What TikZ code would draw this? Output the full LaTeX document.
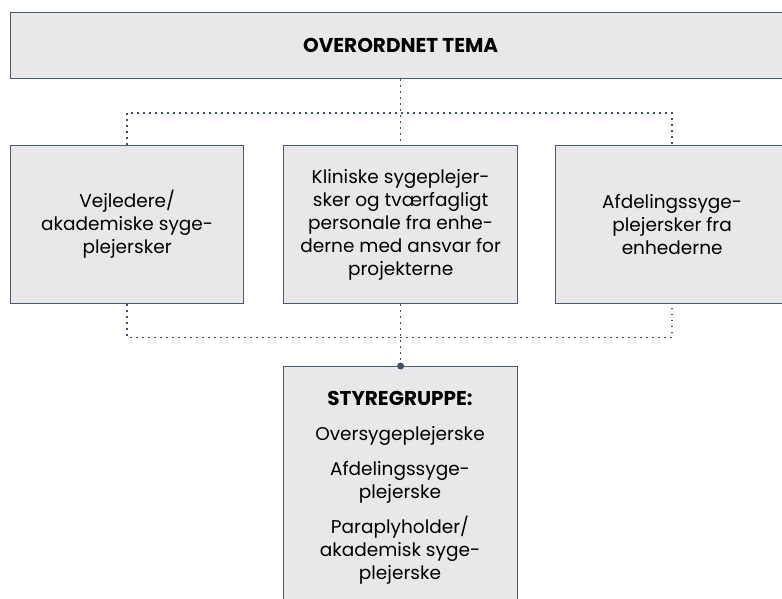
\documentclass[tikz,border=0pt]{standalone}
\usepackage{fontspec}
\setmainfont{Poppins}
\definecolor{boxfill}{HTML}{E8E8EA}
\definecolor{boxline}{HTML}{4B5B6B}
\definecolor{dotcol}{HTML}{3E5068}
\begin{document}
\begin{tikzpicture}[x=1pt,y=-1pt,
  box/.style={draw=boxline, line width=1.3pt, fill=boxfill, inner sep=0pt,
    align=center, text=black, font=\fontsize{18.5}{23}\selectfont},
  conn/.style={draw=dotcol, line width=1.6pt, dash pattern=on 1.6pt off 4.4pt},
  bodytxt/.style={inner sep=0pt, align=center, text=black, font=\fontsize{18.5}{23}\selectfont}]
\clip (0,0) rectangle (782,598);
\node[box, anchor=north west, minimum width=780pt, minimum height=66pt,
  font=\bfseries\fontsize{20}{24}\selectfont] (tema) at (10,12) {OVERORDNET TEMA};
\node[box, anchor=north west, minimum width=233pt, minimum height=158pt] (vej) at (10,145)
  {Vejledere/\\akademiske syge-\\plejersker};
\node[box, anchor=north west, minimum width=234pt, minimum height=158pt] (klin) at (283,145)
  {Kliniske sygeplejer-\\sker og tværfagligt\\personale fra enhe-\\derne med ansvar for\\projekterne};
\node[box, anchor=north west, minimum width=233pt, minimum height=158pt] (afd) at (555,145)
  {Afdelingssyge-\\plejersker fra\\enhederne};
\node[box, anchor=north west, minimum width=234pt, minimum height=250pt] (styre) at (283,366) {};
\node[bodytxt, anchor=north] (styretxt) at (400,391)
  {{\bfseries\fontsize{20}{23}\selectfont STYREGRUPPE:}\\[12pt]
   Oversygeplejerske\\[12pt]
   Afdelingssyge-\\plejerske\\[12pt]
   Paraplyholder/\\akademisk syge-\\plejerske};
\draw[conn] (tema.south) -- (klin.north);
\draw[conn] (vej.north) -- ++(0,-32) -| (afd.north);
\draw[conn] (vej.south) -- ++(0,33) -| (afd.south);
\draw[conn] (klin.south) -- (styre.north);
\fill[dotcol] (styre.north) circle (3.5pt);
\end{tikzpicture}
\end{document}
